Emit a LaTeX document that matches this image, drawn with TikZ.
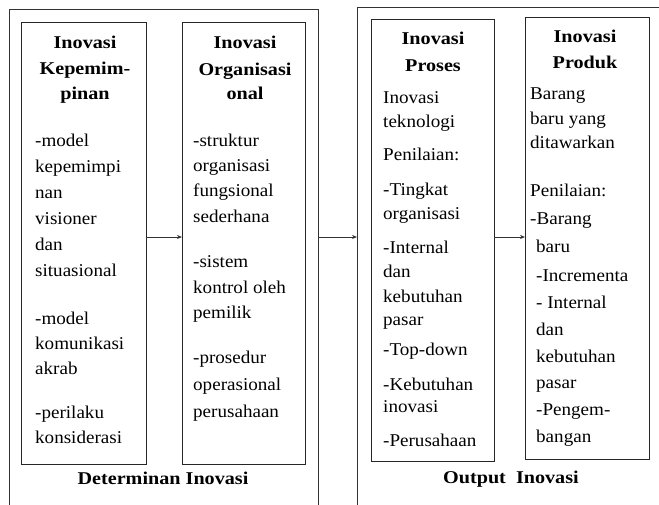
\documentclass[tikz,border=0pt]{standalone}
\usepackage{fontspec}
\setmainfont{Liberation Serif}[FakeStretch=1.06, BoldFeatures={FakeStretch=1.12}]
\usetikzlibrary{arrows.meta}
\newcommand\txtfont{\fontsize{18}{22}\selectfont}
\begin{document}
\begin{tikzpicture}[x=1pt,y=-1pt,
  box/.style={draw=black!85, line width=1pt, inner sep=0pt, outer sep=0pt, anchor=north west},
  outerbox/.style={draw=black!80, line width=0.9pt, inner sep=0pt, outer sep=0pt, anchor=north west},
  ln/.style={anchor=base west, inner sep=0pt, font=\txtfont},
  hd/.style={anchor=base, inner sep=0pt, font=\txtfont\bfseries},
  arr/.style={draw=black!80, line width=0.8pt, -{Stealth[length=5pt,width=4pt]}}]
\useasboundingbox (0,0) rectangle (659,504);
\clip (0,0) rectangle (659,504);
% outer frames
\node[outerbox, minimum width=309pt, minimum height=530pt] (o1) at (9,9) {};
\node[outerbox, minimum width=340pt, minimum height=530pt] (o2) at (357,7) {};
% inner boxes
\node[box, minimum width=125pt, minimum height=442pt] (b1) at (21,22) {};
\node[box, minimum width=123pt, minimum height=442pt] (b2) at (182,22) {};
\node[box, minimum width=123pt, minimum height=442pt] (b3) at (371,19) {};
\node[box, minimum width=124pt, minimum height=442pt] (b4) at (525,17) {};
% headings
\foreach \t/\y [count=\i] in {Inovasi/48, Kepemim-/74, pinan/99}
  \node[hd] (h1\i) at (85,\y) {\t};
\foreach \t/\y [count=\i] in {Inovasi/48, Organisasi/75, onal/99}
  \node[hd] (h2\i) at (245,\y) {\t};
\foreach \t/\y [count=\i] in {Inovasi/44, Proses/71}
  \node[hd] (h3\i) at (433,\y) {\t};
\foreach \t/\y [count=\i] in {Inovasi/42, Produk/68}
  \node[hd] (h4\i) at (585,\y) {\t};
% body texts
\foreach \t/\y [count=\i] in {{-model}/146, kepemimpi/172, nan/198, visioner/224, dan/250, situasional/276,
    {-model}/324, komunikasi/349, akrab/374, {-perilaku}/418, konsiderasi/443}
  \node[ln] (t1\i) at (35,\y) {\t};
\foreach \t/\y [count=\i] in {{-struktur}/146, organisasi/171, fungsional/196, sederhana/222,
    {-sistem}/267, {kontrol oleh}/293, pemilik/318, {-prosedur}/363, operasional/390, perusahaan/417}
  \node[ln] (t2\i) at (193,\y) {\t};
\foreach \t/\y [count=\i] in {Inovasi/103, teknologi/127, {Penilaian:}/160, {-Tingkat}/195, organisasi/219,
    {-Internal}/253, dan/277, kebutuhan/302, pasar/325, {-Top-down}/355, {-Kebutuhan}/390, inovasi/412,
    {-Perusahaan}/446}
  \node[ln] (t3\i) at (383,\y) {\t};
\foreach \t/\y [count=\i] in {Barang/99, {baru yang}/124, ditawarkan/148, {Penilaian:}/196, {-Barang}/224}
  \node[ln] (t4\i) at (530,\y) {\t};
\foreach \t/\y [count=\i] in {baru/252, {-Incrementa}/281, {- Internal}/308, dan/335, kebutuhan/362,
    pasar/388, {-Pengem-}/415, bangan/442}
  \node[ln] (u4\i) at (536,\y) {\t};
% captions
\node[hd] (cap1) at (163,484) {Determinan Inovasi};
\node[hd] (cap2) at (511,483) {Output\ \ Inovasi};
% arrows
\coordinate (ay) at (0,237);
\draw[arr] (b1.east |- ay) -- (b2.west |- ay);
\draw[arr] (o1.east |- ay) -- (o2.west |- ay);
\draw[arr] (b3.east |- ay) -- (b4.west |- ay);
\end{tikzpicture}
\end{document}
